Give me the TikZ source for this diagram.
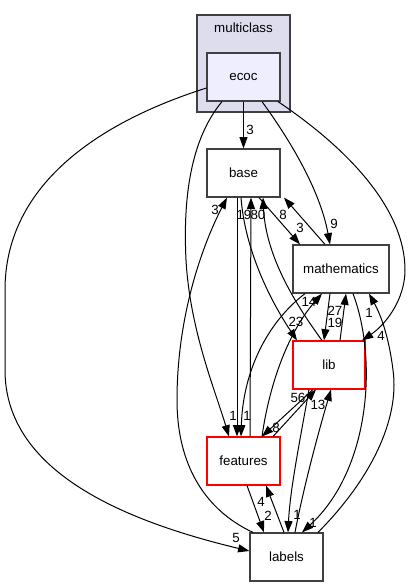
\documentclass[tikz,border=0pt]{standalone}
\usepackage{fontspec}
\setmainfont{Liberation Sans}
\usetikzlibrary{arrows.meta}

\definecolor{clusterfill}{HTML}{DDDDEE}
\definecolor{ecocfill}{HTML}{EEEEFF}

\tikzset{
  dirbox/.style={draw=black!75, line width=0.9pt, fill=white, inner sep=0pt,
    minimum width=54.75pt, minimum height=36pt, font={\fontsize{10}{12}\selectfont}},
  libbox/.style={dirbox, draw=red, line width=0.8pt},
  clusterbox/.style={draw=black!75, line width=0.9pt, fill=clusterfill, inner sep=0pt,
    minimum width=69.75pt, minimum height=72.75pt},
  dep/.style={-{Triangle[length=8.5pt,width=6pt]}, line width=0.75pt},
  num/.style={inner sep=0pt, font={\fontsize{10}{12}\selectfont}}
}

\begin{document}
\begin{tikzpicture}[x=0.75pt, y=-0.75pt]

\useasboundingbox (0,0) rectangle (413,587);

\node [clusterbox] (multiclass) at (243.5,63.5) {};
\node [num] (multiclass-title) at (243.5,28) {multiclass};

\node [dirbox, fill=ecocfill] (ecoc) at (243.5,77) {ecoc};
\node [dirbox] (base) at (243.5,173) {base};
\node [dirbox, minimum width=72pt] (mathematics) at (341,269) {mathematics};
\node [libbox, minimum width=54pt] (lib) at (329,365) {lib};
\node [libbox] (features) at (243.5,461) {features};
\node [dirbox] (labels) at (286.5,557) {labels};

\draw [dep] (ecoc) -- (base) node [num] (n-ecoc-base) at (250,130) {3};
\draw [dep] (ecoc.west |- 0,88) .. controls (90,125) and (5,190) .. (5,290) -- (5,370)
  .. controls (5,470) and (120,520) .. (labels.west |- 0,551) node [num] (n-ecoc-labels) at (236,538) {5};
\draw [dep] (222,0 |- ecoc.south) .. controls (190,140) and (183,200) .. (186,260)
  .. controls (190,330) and (215,390) .. (229,0 |- features.north) node [num] (n-ecoc-features) at (233,416) {1};
\draw [dep] (262,0 |- ecoc.south) .. controls (290,140) and (320,190) .. (330,0 |- mathematics.north)
  node [num] (n-ecoc-mathematics) at (334,224) {9};
\draw [dep] (278,0 |- ecoc.south) .. controls (350,150) and (405,210) .. (405,270)
  .. controls (405,300) and (385,325) .. (362,0 |- lib.north) node [num] (n-ecoc-lib) at (381,336) {4};

\draw [dep] (237,0 |- base.south) -- (237,0 |- features.north) node [num] (n-base-features) at (247,416) {1};
\draw [dep] (250,0 |- features.north) -- (251,0 |- base.south) node [num] (n-features-base) at (244,215) {19};
\draw [dep] (253,0 |- labels.north) .. controls (205,510) and (177,465) .. (177,400)
  .. controls (177,320) and (200,250) .. (227,0 |- base.south) node [num] (n-labels-base) at (215,210) {3};
\draw [dep] (259,0 |- base.south) -- (300,0 |- mathematics.north) node [num] (n-base-mathematics) at (300,228) {3};
\draw [dep] (325,0 |- mathematics.north) -- (284,0 |- base.south) node [num] (n-mathematics-base) at (283,215) {8};
\draw [dep] (241,0 |- base.south) .. controls (245,250) and (270,300) .. (297,0 |- lib.north)
  node [num] (n-base-lib) at (296,322) {23};
\draw [dep] (322,0 |- lib.north) .. controls (300,310) and (266,260) .. (263,0 |- base.south)
  node [num] (n-lib-base) at (258,215) {80};

\draw [dep] (262,0 |- features.north) .. controls (270,380) and (290,330) .. (322,0 |- mathematics.south)
  node [num] (n-features-mathematics) at (309,302) {14};
\draw [dep] (305,0 |- mathematics.south) .. controls (268,322) and (243,370) .. (241,0 |- features.north);
\draw [dep] (330,0 |- mathematics.south) -- (324,0 |- lib.north) node [num] (n-mathematics-lib) at (335,323) {19};
\draw [dep] (340,0 |- lib.north) -- (346,0 |- mathematics.south) node [num] (n-lib-mathematics) at (335,311) {27};
\draw [dep] (318,0 |- labels.north) .. controls (370,480) and (400,420) .. (393,370)
  .. controls (388,330) and (378,310) .. (369,0 |- mathematics.south) node [num] (n-labels-mathematics) at (369,313) {1};
\draw [dep] (353,0 |- mathematics.south) .. controls (378,360) and (370,470) .. (302,0 |- labels.north)
  node [num] (n-mathematics-labels) at (313,523) {1};

\draw [dep] (313,0 |- lib.south) -- (262,0 |- features.north) node [num] (n-lib-features) at (276,428) {8};
\draw [dep] (273,0 |- features.north) -- (316,0 |- lib.south) node [num] (n-features-lib) at (298,398) {56};
\draw [dep] (309,0 |- lib.south) .. controls (300,440) and (290,490) .. (288,0 |- labels.north)
  node [num] (n-lib-labels) at (297,515) {1};
\draw [dep] (295,0 |- labels.north) .. controls (305,480) and (322,420) .. (331,0 |- lib.south)
  node [num] (n-labels-lib) at (318,405) {13};

\draw [dep] (247,0 |- features.south) -- (264,0 |- labels.north) node [num] (n-features-labels) at (268,516) {2};
\draw [dep] (284,0 |- labels.north) -- (266,0 |- features.south) node [num] (n-labels-features) at (261,502) {4};

\end{tikzpicture}
\end{document}
